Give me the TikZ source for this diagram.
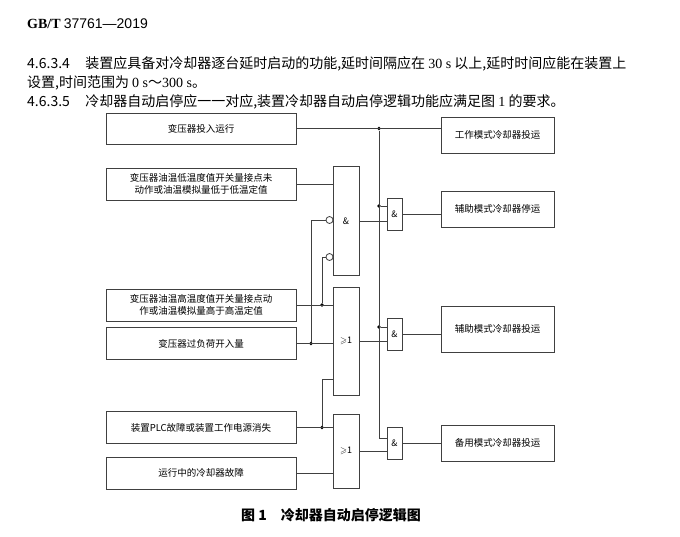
\documentclass[tikz,border=0pt]{standalone}
\usepackage{fontspec}
\usepackage{amssymb}
\setmainfont{Noto Sans CJK SC}
\newfontfamily\serifnum{Liberation Serif}
\newfontfamily\sansnum{Liberation Sans}
\usepackage{tikz}

\begin{document}
\begin{tikzpicture}[
  x=1pt, y=-1pt,
  box/.style={rectangle, draw=black!75, line width=0.8pt, minimum width=190pt, minimum height=32pt, align=center, inner sep=1pt, font=\fontsize{9.5}{12.5}\selectfont},
  outbox/.style={box, minimum width=113pt, minimum height=36pt},
  gate/.style={rectangle, draw=black!75, line width=0.8pt, minimum width=26pt, inner sep=0pt, font=\fontsize{9}{10}\selectfont},
  andgate/.style={gate, minimum width=15pt, minimum height=32pt},
  neg/.style={circle, draw=black!75, line width=0.8pt, fill=white, inner sep=0pt, minimum size=7pt},
  dot/.style={circle, fill=black, inner sep=0pt, minimum size=3.6pt},
  wire/.style={draw=black!75, line width=0.8pt},
  para/.style={anchor=west, inner sep=0pt, font=\fontsize{14}{16}\selectfont}
]
\useasboundingbox (0,0) rectangle (680,536);

% header and clauses
\node[anchor=west, inner sep=0pt, font=\fontsize{14}{16}\selectfont] (std) at (27,24) {{\serifnum\bfseries GB/T} {\sansnum 37761—2019}};
\node[para] (p1) at (27,64) {4.6.3.4\hspace{1.1em}装置应具备对冷却器逐台延时启动的功能,延时间隔应在 {\serifnum 30 s} 以上,延时时间应能在装置上};
\node[para] (p2) at (27,83) {设置,时间范围为 {\serifnum 0 s}～{\serifnum 300 s}。};
\node[para] (p3) at (27,102) {4.6.3.5\hspace{1.1em}冷却器自动启停应一一对应,装置冷却器自动启停逻辑功能应满足图 {\serifnum 1} 的要求。};

% inputs
\node[box, minimum height=31pt] (run) at (201,128.5) {变压器投入运行};
\node[box] (lowtemp) at (201,184) {变压器油温低温度值开关量接点未\\动作或油温模拟量低于低温定值};
\node[box] (hightemp) at (201,305) {变压器油温高温度值开关量接点动\\作或油温模拟量高于高温定值};
\node[box] (overload) at (201,343.5) {变压器过负荷开入量};
\node[box] (plcfault) at (201,427.5) {装置PLC故障或装置工作电源消失};
\node[box] (coolfault) at (201,473) {运行中的冷却器故障};

% gates
\node[gate, minimum height=109pt] (and1) at (346,221) {\&};
\node[gate, minimum height=108pt] (or1) at (346,341) {$\geqslant$1};
\node[gate, minimum height=74pt] (or2) at (346,451) {$\geqslant$1};
\node[neg] (inv1) at (329.5,220) {};
\node[neg] (inv2) at (329.5,257) {};
\node[andgate] (and2) at (394.5,214) {\&};
\node[andgate] (and3) at (394.5,334.5) {\&};
\node[andgate] (and4) at (394.5,443.5) {\&};

% outputs
\node[outbox] (workrun) at (497.5,135) {工作模式冷却器投运};
\node[outbox] (auxstop) at (497.5,209) {辅助模式冷却器停运};
\node[outbox, minimum height=46pt] (auxrun) at (497.5,329) {辅助模式冷却器投运};
\node[outbox] (backup) at (497.5,443) {备用模式冷却器投运};

% junctions
\node[dot] (j1) at (311,343.5) {};
\node[dot] (j2) at (322,305) {};
\node[dot] (j3) at (322,427.5) {};
\node[dot] (b1) at (379,128.5) {};
\node[dot] (b2) at (379,206) {};
\node[dot] (b3) at (379,327) {};
\coordinate (or1c) at (333,379);
\coordinate (bend) at (387,438);

\draw[wire] (run.east) -- (workrun.west |- run.east);
\draw[wire] (lowtemp.east) -- (lowtemp.east -| and1.west);
\draw[wire] (hightemp.east) -- (hightemp.east -| or1.west);
\draw[wire] (overload.east) -- (overload.east -| or1.west);
\draw[wire] (plcfault.east) -- (plcfault.east -| or2.west);
\draw[wire] (coolfault.east) -- (coolfault.east -| or2.west);
\draw[wire] (inv1.west) -| (j1);
\draw[wire] (inv2.west) -| (j2);
\draw[wire] (or1c) -| (j3);
\draw[wire] (b1) |- (bend);
\draw[wire] (b2) -- (b2 -| and2.west);
\draw[wire] (b3) -- (b3 -| and3.west);
\draw[wire] (and1.east) -- (and1.east -| and2.west);
\draw[wire] (or1.east) -- (or1.east -| and3.west);
\draw[wire] (or2.east) -- (or2.east -| and4.west);
\draw[wire] (and2.east) -- (and2.east -| auxstop.west);
\draw[wire] (and3.east) -- (and3.east -| auxrun.west);
\draw[wire] (and4.east) -- (and4.east -| backup.west);

\node[font=\fontsize{14}{16}\selectfont\bfseries] (cap) at (331,515) {图 1\hspace{1em}冷却器自动启停逻辑图};
\end{tikzpicture}
\end{document}
